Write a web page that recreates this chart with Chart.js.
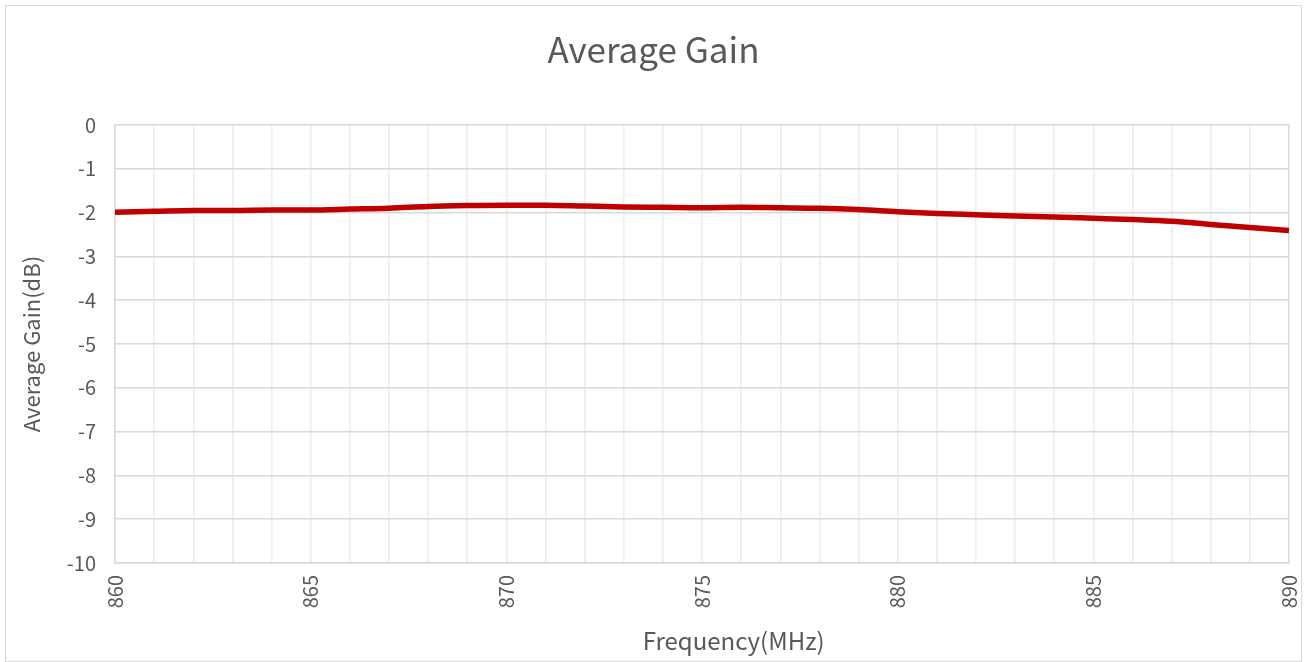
<!DOCTYPE html>
<html>
<head>
<meta charset="utf-8">
<script src="https://cdn.jsdelivr.net/npm/chart.js@4"></script>
<style>
html,body{margin:0;padding:0;background:#fff;}
#wrap{width:1307px;height:662px;position:relative;}
</style>
</head>
<body>
<div id="wrap"><canvas id="c" width="1307" height="662"></canvas></div>
<script>
const frequencies = [860,861,862,863,864,865,866,867,868,869,870,871,872,873,874,875,876,877,878,879,880,881,882,883,884,885,886,887,888,889,890];
const gains = [-1.99,-1.97,-1.95,-1.95,-1.94,-1.94,-1.92,-1.90,-1.86,-1.84,-1.83,-1.83,-1.85,-1.87,-1.88,-1.89,-1.88,-1.89,-1.90,-1.93,-1.98,-2.02,-2.05,-2.08,-2.10,-2.13,-2.16,-2.20,-2.27,-2.34,-2.41];
const yTicks = [0,-1,-2,-3,-4,-5,-6,-7,-8,-9,-10];
const xLabelTicks = [860,865,870,875,880,885,890];
const xTitle = 'Frequency(MHz)';
const yTitle = 'Average Gain(dB)';
const chartTitle = 'Average Gain';

const FONT = "'Noto Sans CJK SC', 'Noto Sans', sans-serif";
const TXT = '#595959';

const borderPlugin = {
  id: 'outerBorder',
  beforeDraw(chart) {
    const ctx = chart.ctx;
    ctx.save();
    ctx.fillStyle = '#fff';
    ctx.fillRect(0, 0, chart.width, chart.height);
    ctx.strokeStyle = '#d9d9d9';
    ctx.lineWidth = 1;
    ctx.strokeRect(5.5, 5.5, 1296, 656);
    ctx.restore();
  },
  afterDraw(chart) {
    const ctx = chart.ctx;
    const xs = chart.scales.x;
    ctx.save();
    ctx.fillStyle = TXT;
    ctx.font = "24px " + FONT;
    ctx.textAlign = 'center';
    ctx.textBaseline = 'middle';
    ctx.fillText(xTitle, xs.getPixelForValue(860 + 30 * 0.527), 641);
    ctx.restore();
  }
};

new Chart(document.getElementById('c'), {
  type: 'line',
  data: {
    datasets: [{
      data: frequencies.map((f, i) => ({x: f, y: gains[i]})),
      borderColor: '#c00000',
      borderWidth: 5.5,
      pointRadius: 0,
      cubicInterpolationMode: 'monotone',
      fill: false
    }]
  },
  options: {
    responsive: false,
    animation: false,
    devicePixelRatio: 1,
    layout: {padding: {left: 18, right: 18, top: 20, bottom: 8}},
    plugins: {
      legend: {display: false},
      tooltip: {enabled: false},
      title: {
        display: true,
        text: chartTitle,
        color: TXT,
        font: {family: FONT, size: 35, weight: 'normal', lineHeight: 1.2},
        padding: {top: 9, bottom: 54}
      }
    },
    scales: {
      x: {
        type: 'linear',
        min: 860, max: 890,
        afterBuildTicks(scale) {
          scale.ticks = frequencies.map(v => ({value: v}));
        },
        afterFit(scale) {
          scale.height = 91;
          scale.paddingRight = 0;
          scale.paddingLeft = 0;
        },
        ticks: {
          autoSkip: false,
          minRotation: 90, maxRotation: 90,
          padding: 12,
          color: TXT,
          font: {family: FONT, size: 20},
          callback: v => xLabelTicks.includes(v) ? String(v) : ''
        },
        grid: {
          drawTicks: false,
          color: ctx => (ctx.tick && (ctx.tick.value === 860 || ctx.tick.value === 890)) ? '#d9d9d9' : '#ececec',
          lineWidth: 1.5
        },
        border: {color: '#d9d9d9', width: 1.5},
        title: {display: false}
      },
      y: {
        min: -10, max: 0,
        afterBuildTicks(scale) {
          scale.ticks = yTicks.map(v => ({value: v}));
        },
        afterFit(scale) { scale.width = 97; },
        ticks: {
          padding: 19,
          color: TXT,
          font: {family: FONT, size: 20},
          callback: v => String(v)
        },
        grid: {
          drawTicks: false,
          color: '#d9d9d9',
          lineWidth: 1.5
        },
        border: {color: '#d9d9d9', width: 1.5},
        title: {
          display: true,
          text: yTitle,
          color: TXT,
          font: {family: FONT, size: 22},
          padding: {top: 0, bottom: 4}
        }
      }
    }
  },
  plugins: [borderPlugin]
});
</script>
</body>
</html>
